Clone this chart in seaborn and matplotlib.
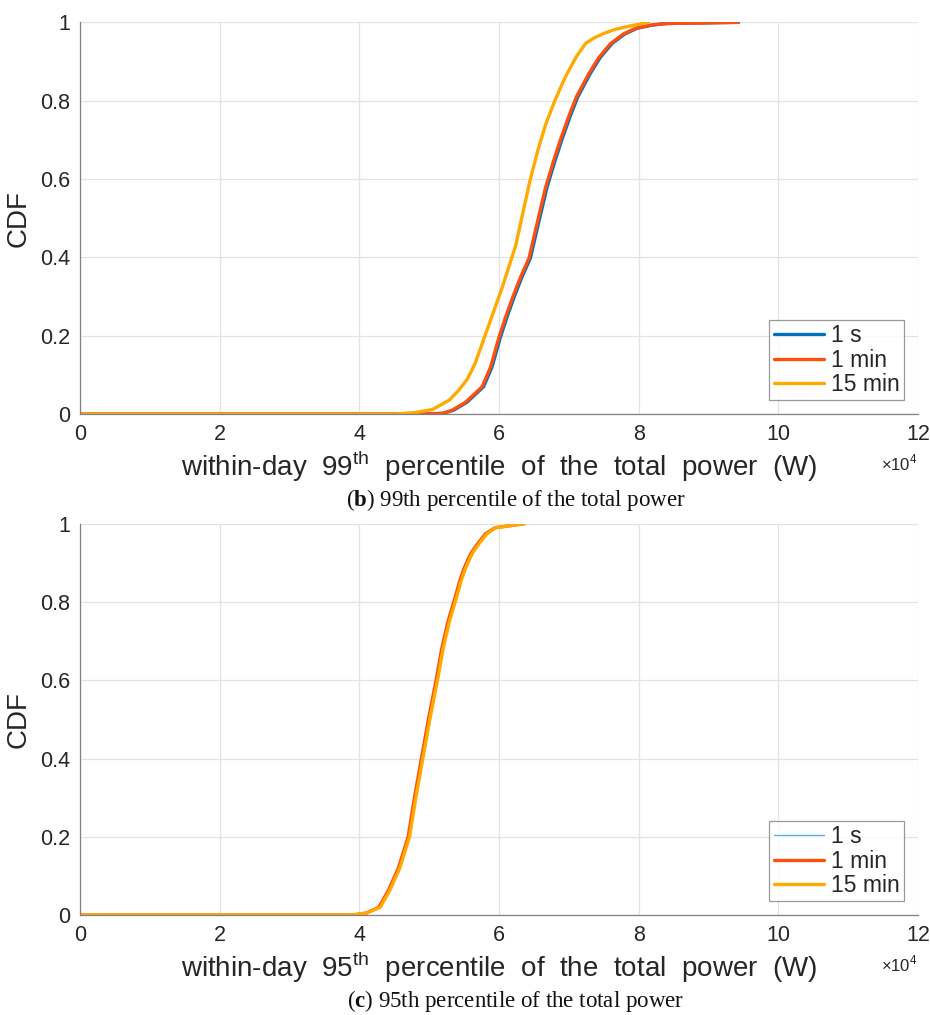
import matplotlib
matplotlib.use('Agg')
import matplotlib.pyplot as plt
import seaborn as sns
import pandas as pd

# CDF curves, power in units of 1e4 W
# (b) 99th percentile
p99_1s_x = [0.0, 4.9, 5.2, 5.35, 5.54, 5.78, 5.9, 6.02, 6.12, 6.22, 6.33, 6.45, 6.57, 6.69, 6.80, 6.90, 7.02, 7.13, 7.31, 7.45, 7.62, 7.80, 7.98, 8.20, 8.40, 9.43]
p99_1s_y = [0.0, 0.0, 0.002, 0.01, 0.03, 0.07, 0.12, 0.196, 0.25, 0.30, 0.35, 0.398, 0.49, 0.58, 0.645, 0.70, 0.76, 0.81, 0.87, 0.91, 0.946, 0.97, 0.985, 0.993, 0.997, 1.0]
p99_1min_x = [0.0, 4.9, 5.2, 5.33, 5.52, 5.76, 5.88, 6.0, 6.1, 6.2, 6.31, 6.43, 6.55, 6.67, 6.78, 6.88, 7.0, 7.11, 7.29, 7.43, 7.6, 7.78, 7.96, 8.18, 8.4, 9.43]
p99_1min_y = [0.0, 0.0, 0.002, 0.01, 0.03, 0.07, 0.12, 0.196, 0.25, 0.30, 0.35, 0.398, 0.49, 0.58, 0.645, 0.70, 0.76, 0.81, 0.87, 0.91, 0.946, 0.97, 0.985, 0.993, 0.997, 1.0]
p99_15min_x = [0.0, 4.5, 4.8, 5.05, 5.29, 5.42, 5.55, 5.66, 5.76, 5.9, 6.05, 6.14, 6.24, 6.35, 6.45, 6.56, 6.67, 6.80, 6.95, 7.10, 7.24, 7.36, 7.48, 7.66, 7.86, 8.14]
p99_15min_y = [0.0, 0.0, 0.004, 0.012, 0.036, 0.06, 0.09, 0.13, 0.18, 0.25, 0.325, 0.375, 0.43, 0.52, 0.60, 0.675, 0.74, 0.80, 0.86, 0.91, 0.946, 0.96, 0.97, 0.982, 0.99, 1.0]

# (c) 95th percentile
p95_1s_x = [0.0, 3.9, 4.1, 4.29, 4.43, 4.57, 4.71, 4.8, 4.9, 5.0, 5.11, 5.19, 5.28, 5.38, 5.45, 5.52, 5.61, 5.71, 5.82, 5.95, 6.36]
p95_1s_y = [0.0, 0.0, 0.005, 0.02, 0.064, 0.12, 0.2, 0.30, 0.40, 0.50, 0.60, 0.68, 0.75, 0.81, 0.855, 0.89, 0.925, 0.95, 0.975, 0.99, 1.0]
p95_1min_x = [0.0, 3.9, 4.1, 4.28, 4.42, 4.56, 4.70, 4.79, 4.89, 4.99, 5.10, 5.18, 5.27, 5.37, 5.44, 5.51, 5.60, 5.70, 5.81, 5.95, 6.36]
p95_1min_y = [0.0, 0.0, 0.005, 0.02, 0.064, 0.12, 0.2, 0.30, 0.40, 0.50, 0.60, 0.68, 0.75, 0.81, 0.855, 0.89, 0.925, 0.95, 0.975, 0.99, 1.0]
p95_15min_x = [0.0, 3.9, 4.1, 4.30, 4.44, 4.58, 4.72, 4.81, 4.91, 5.01, 5.12, 5.20, 5.29, 5.39, 5.46, 5.53, 5.62, 5.72, 5.83, 5.96, 6.36]
p95_15min_y = [0.0, 0.0, 0.005, 0.02, 0.064, 0.12, 0.2, 0.30, 0.40, 0.50, 0.60, 0.68, 0.75, 0.81, 0.855, 0.89, 0.925, 0.95, 0.975, 0.99, 1.0]

labels = ['1 s', '1 min', '15 min']
colors_b = ['#0072BD', '#FF4F0F', '#FFAA00']
colors_c = ['#5AAEE6', '#FF4F0F', '#FFAA00']
x_ticks = [0, 2, 4, 6, 8, 10, 12]
y_ticks = [0, 0.2, 0.4, 0.6, 0.8, 1]

sns.set_style('white')
plt.rcParams['font.family'] = ['Liberation Sans', 'DejaVu Sans']
plt.rcParams['mathtext.fontset'] = 'custom'
plt.rcParams['mathtext.rm'] = 'Liberation Sans'
plt.rcParams['mathtext.bf'] = 'Liberation Serif:bold'

fig = plt.figure(figsize=(9.3, 10.15), dpi=100)
ax1 = fig.add_axes([0.086, 0.592, 0.901, 0.386])
ax2 = fig.add_axes([0.086, 0.0985, 0.901, 0.3855])


def make_df(xs, ys):
    frames = []
    for lab, x, y in zip(labels, xs, ys):
        frames.append(pd.DataFrame({'power': [v * 1e4 for v in x], 'cdf': y, 'res': lab}))
    return frames


def draw_panel(ax, frames, widths, cols, pct, caption_letter, caption):
    for df, w, c in zip(frames, widths, cols):
        lab = df['res'].iloc[0]
        sns.lineplot(data=df, x='power', y='cdf', ax=ax, color=c, lw=w,
                     label=lab, estimator=None, sort=False)
    ax.set_xlim(0, 120000)
    ax.set_ylim(0, 1)
    ax.set_xticks([t * 1e4 for t in x_ticks])
    ax.set_xticklabels([str(t) for t in x_ticks])
    ax.set_yticks(y_ticks)
    ax.set_yticklabels(['0', '0.2', '0.4', '0.6', '0.8', '1'])
    ax.grid(True, color='#e3e3e3', lw=0.9)
    ax.set_axisbelow(True)
    for s in ['top', 'right']:
        ax.spines[s].set_visible(False)
    for s in ['left', 'bottom']:
        ax.spines[s].set_color('#808080')
        ax.spines[s].set_linewidth(0.9)
    ax.tick_params(direction='in', length=5, color='#808080', labelsize=15.5,
                   labelcolor='#262626', pad=7)
    ax.set_xlabel('within-day  ' + pct + r'$^{\mathrm{th}}$  percentile  of  the  total  power  (W)',
                  fontsize=20, color='#262626', labelpad=3)
    ax.set_ylabel('CDF', fontsize=20, color='#262626', labelpad=6)
    ax.text(1.0, -0.125, r'$\times$10$^{4}$', transform=ax.transAxes, ha='right',
            va='center', fontsize=12, color='#262626')
    leg = ax.legend(loc='lower right', fontsize=16.5, frameon=True, fancybox=False,
                    handlelength=2.2, handletextpad=0.3, labelspacing=0.05,
                    borderpad=0.2, borderaxespad=0.6)
    leg.get_frame().set_edgecolor('#808080')
    leg.get_frame().set_linewidth(0.9)
    ax.text(0.52, -0.22, r'($\mathbf{' + caption_letter + r'}$) ' + caption,
            transform=ax.transAxes, ha='center', va='center', fontsize=16.5,
            family='Liberation Serif', color='#111111')


draw_panel(ax1, make_df([p99_1s_x, p99_1min_x, p99_15min_x], [p99_1s_y, p99_1min_y, p99_15min_y]),
           [2.4, 2.4, 2.4], colors_b, '99', 'b', '99th percentile of the total power')
draw_panel(ax2, make_df([p95_1s_x, p95_1min_x, p95_15min_x], [p95_1s_y, p95_1min_y, p95_15min_y]),
           [1.0, 2.4, 2.4], colors_c, '95', 'c', '95th percentile of the total power')

fig.savefig('out.png', dpi=100)
